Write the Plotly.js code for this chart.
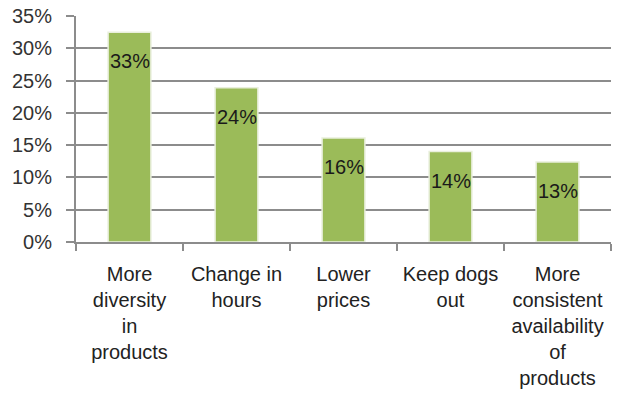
<!DOCTYPE html>
<html>
<head>
<meta charset="utf-8">
<script src="https://cdn.plot.ly/plotly-3.0.1.min.js"></script>
<style>html,body{margin:0;padding:0;background:#fff;}#chart{width:621px;height:409px;}</style>
</head>
<body>
<div id="chart"></div>
<script>
const categories = [
  "More<br>diversity<br>in<br>products",
  "Change in<br>hours",
  "Lower<br>prices",
  "Keep dogs<br>out",
  "More<br>consistent<br>availability<br>of<br>products"
];
const values = [32.5, 23.9, 16.1, 14.0, 12.4];
const valueLabels = ["33%", "24%", "16%", "14%", "13%"];
const yTickValues = [0, 5, 10, 15, 20, 25, 30, 35];
const yTickLabels = ["0%", "5%", "10%", "15%", "20%", "25%", "30%", "35%"];

const FONT = "Liberation Sans, Arial, sans-serif";

const trace = {
  type: "bar",
  x: categories,
  y: values,
  marker: { color: "#9BBB59", line: { color: "#e9efdc", width: 1.5 } },
  hoverinfo: "skip"
};

const annotations = categories.map((c, i) => ({
  x: c, y: values[i], xref: "x", yref: "y",
  text: valueLabels[i], showarrow: false, yshift: -29,
  font: { family: FONT, size: 20, color: "#1a1a1a" }
}));

const layout = {
  width: 621, height: 409,
  margin: { l: 76, r: 10, t: 16, b: 167 },
  paper_bgcolor: "#fff", plot_bgcolor: "#fff",
  showlegend: false,
  bargap: 0.6,
  font: { family: FONT, color: "#333" },
  xaxis: {
    type: "category",
    showgrid: false,
    showline: true, linecolor: "#8c8c8c", linewidth: 2,
    ticks: "outside", tickson: "boundaries", ticklen: 7, tickwidth: 2, tickcolor: "#8c8c8c",
    ticklabelstandoff: 13,
    tickfont: { family: FONT, size: 20, color: "#222" },
    tickangle: 0,
    automargin: false
  },
  yaxis: {
    range: [0, 35],
    tickvals: yTickValues,
    ticktext: yTickLabels,
    showgrid: true, gridcolor: "#8c8c8c", gridwidth: 2,
    zeroline: false,
    showline: true, linecolor: "#8c8c8c", linewidth: 2,
    ticks: "outside", ticklen: 8, tickwidth: 2, tickcolor: "#8c8c8c",
    ticklabelstandoff: 10,
    tickfont: { family: FONT, size: 20, color: "#333" },
    automargin: false
  },
  annotations: annotations
};

Plotly.newPlot("chart", [trace], layout, { displayModeBar: false, staticPlot: true });
</script>
</body>
</html>
